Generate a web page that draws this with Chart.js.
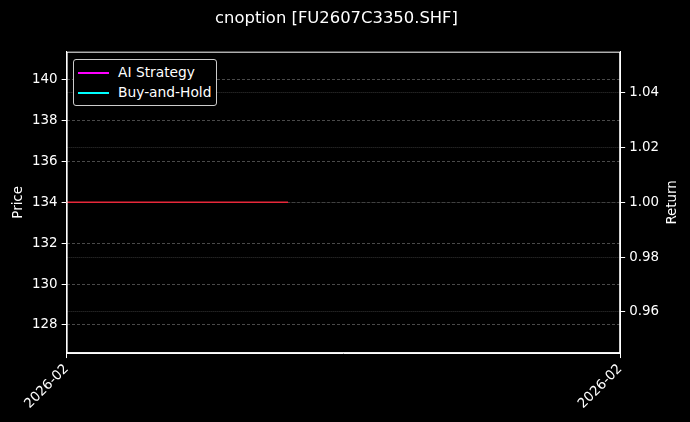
<!DOCTYPE html>
<html>
<head>
<meta charset="utf-8">
<script src="https://cdn.jsdelivr.net/npm/chart.js@4"></script>
<style>
  html, body { margin: 0; padding: 0; background: #000; }
  #wrap { position: relative; width: 690px; height: 422px; }
  #legend {
    position: absolute; left: 73px; top: 59px;
    border: 1px solid #cccccc; border-radius: 3px; background: #000;
    padding: 2px 5px 3px 4px;
    font: 13.8px "DejaVu Sans", sans-serif; color: #fff;
  }
  #legend div { height: 20px; line-height: 20px; white-space: nowrap; }
  #legend span.sw { display: inline-block; width: 31px; height: 2.5px; vertical-align: middle; margin-right: 9px; }
</style>
</head>
<body>
<div id="wrap">
  <canvas id="chart" width="690" height="422"></canvas>
  <div id="legend"></div>
</div>
<script>
// dates on the x axis and the series
const dates = ["2026-02-02", "2026-02-03", "2026-02-04", "2026-02-05", "2026-02-06", "2026-02-07"];
const price = [134, 134, 134, null, null, null];
const aiStrategy = [];
const buyAndHold = [];
const xTickLabels = ["2026-02", "2026-02"];
const priceTicks = [128, 130, 132, 134, 136, 138, 140];
const returnTicks = [0.96, 0.98, 1.00, 1.02, 1.04];

const priceMin = 126.62, priceMax = 141.38;
const returnMin = 0.945, returnMax = 1.055;

const legendItems = [
  { label: "AI Strategy", color: "#ff00ff" },
  { label: "Buy-and-Hold", color: "#00ffff" }
];

const legendEl = document.getElementById("legend");
legendItems.forEach(item => {
  const row = document.createElement("div");
  row.innerHTML = '<span class="sw" style="background:' + item.color + '"></span>' + item.label;
  legendEl.appendChild(row);
});

const font = { family: "DejaVu Sans", size: 13.4 };

// white frame round the plot area, plus the right axis title read bottom-up
const frame = {
  id: "frame",
  afterDraw(chart) {
    const a = chart.chartArea, ctx = chart.ctx;
    ctx.save();
    ctx.strokeStyle = "#ffffff";
    ctx.lineWidth = 1;
    ctx.strokeRect(a.left + 0.5, a.top + 0.5, a.right - a.left - 1, a.bottom - a.top - 1);
    ctx.translate(673, (a.top + a.bottom) / 2);
    ctx.rotate(-Math.PI / 2);
    ctx.fillStyle = "#ffffff";
    ctx.font = font.size + "px " + font.family;
    ctx.textAlign = "center";
    ctx.textBaseline = "middle";
    ctx.fillText("Return", 0, 0);
    ctx.restore();
  }
};

Chart.defaults.color = "#ffffff";

new Chart(document.getElementById("chart").getContext("2d"), {
  type: "line",
  data: {
    labels: dates,
    datasets: [
      { label: "Price", data: price, yAxisID: "y", borderColor: "#e8283a", borderWidth: 1.5, pointRadius: 0, spanGaps: false },
      { label: "AI Strategy", data: aiStrategy, yAxisID: "y1", borderColor: "#ff00ff", borderWidth: 2, pointRadius: 0 },
      { label: "Buy-and-Hold", data: buyAndHold, yAxisID: "y1", borderColor: "#00ffff", borderWidth: 2, pointRadius: 0 }
    ]
  },
  options: {
    responsive: false,
    animation: false,
    layout: { padding: { left: 10, right: 27, top: 0, bottom: 7 } },
    plugins: {
      legend: { display: false },
      tooltip: { enabled: false },
      title: {
        display: true,
        text: "cnoption [FU2607C3350.SHF]",
        color: "#ffffff",
        font: { family: "DejaVu Sans", size: 16.4, weight: "normal" },
        padding: { top: 9, bottom: 23 }
      }
    },
    scales: {
      x: {
        offset: false,
        border: { color: "#ffffff" },
        grid: { drawOnChartArea: false, drawTicks: true, tickLength: 5, tickColor: "#ffffff" },
        ticks: {
          autoSkip: false,
          maxRotation: 45, minRotation: 45,
          font: font, color: "#ffffff",
          callback: (v, i, all) => i === 0 ? xTickLabels[0] : (i === all.length - 1 ? xTickLabels[1] : null)
        }
      },
      y: {
        position: "left",
        min: priceMin, max: priceMax,
        border: { color: "#ffffff", dash: [3, 2] },
        grid: { color: "#4a4a4a", tickColor: "#ffffff", tickBorderDash: [], tickLength: 5 },
        ticks: { font: font, color: "#ffffff", padding: 4, callback: v => String(Math.round(v)) },
        afterBuildTicks: axis => { axis.ticks = priceTicks.map(v => ({ value: v })); },
        title: { display: true, text: "Price", font: font, color: "#ffffff", padding: { top: 0, bottom: 2 } }
      },
      y1: {
        position: "right",
        min: returnMin, max: returnMax,
        border: { color: "#ffffff", dash: [1, 1] },
        grid: { color: "#363636", tickColor: "#ffffff", tickBorderDash: [], tickLength: 5 },
        ticks: { font: font, color: "#ffffff", padding: 4, callback: v => v.toFixed(2) },
        afterBuildTicks: axis => { axis.ticks = returnTicks.map(v => ({ value: v })); },
        title: { display: false }
      }
    }
  },
  plugins: [frame]
});
</script>
</body>
</html>
